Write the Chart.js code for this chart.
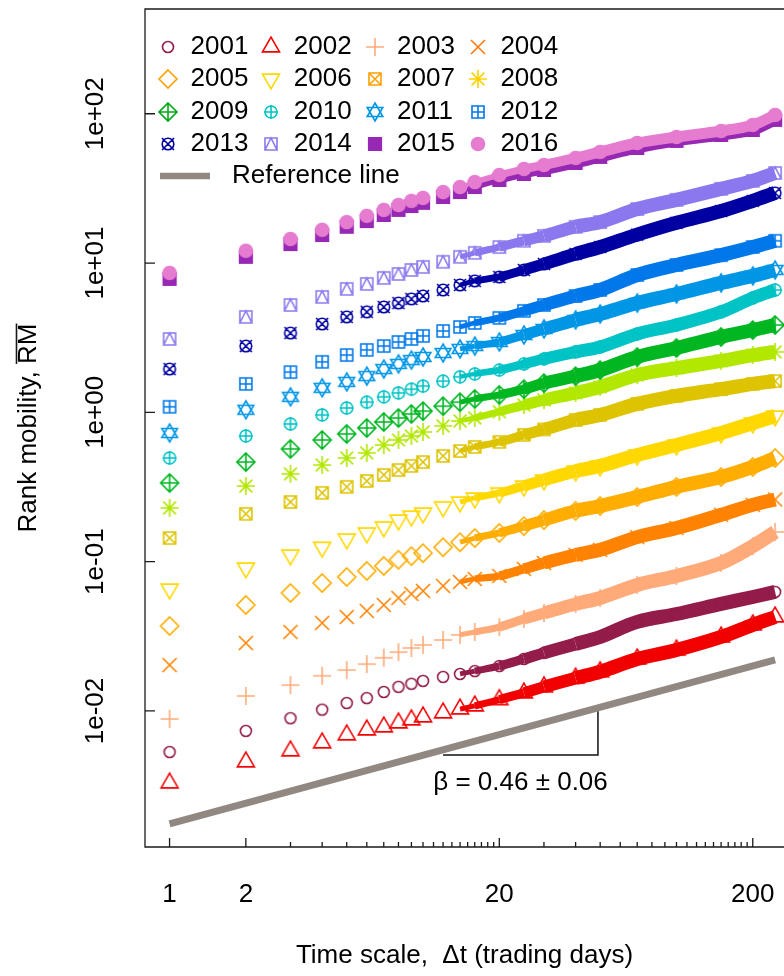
<!DOCTYPE html>
<html>
<head>
<meta charset="utf-8">
<script src="https://cdn.jsdelivr.net/npm/chart.js@4.4.0/dist/chart.umd.min.js"></script>
<style>
  html, body { margin: 0; padding: 0; background: #fff; }
  #wrap { width: 784px; height: 976px; }
</style>
</head>
<body>
<div id="wrap"><canvas id="myChart" width="784" height="976"></canvas></div>
<script>
// time scale in trading days (shared by every year)
const dt = [1, 2, 3, 4, 5, 6, 7, 8, 9, 10, 12, 14, 16, 20, 25, 30, 40, 50, 70, 100, 150, 200, 245];

// rank mobility per year
const rm2001 = [0.00531, 0.00735, 0.00894, 0.0102, 0.0113, 0.0122, 0.0134, 0.0145, 0.0152, 0.0159, 0.0169, 0.0177, 0.0185, 0.0200, 0.0223, 0.0245, 0.0281, 0.0313, 0.0395, 0.0446, 0.0521, 0.0580, 0.0627];
const rm2002 = [0.00329, 0.00456, 0.00540, 0.00611, 0.00691, 0.00746, 0.00782, 0.00831, 0.00871, 0.00912, 0.00970, 0.0103, 0.0108, 0.0119, 0.0132, 0.0145, 0.0166, 0.0183, 0.0223, 0.0256, 0.0313, 0.0377, 0.0426];
const rm2003 = [0.00884, 0.0126, 0.0149, 0.0172, 0.0188, 0.0206, 0.0227, 0.0248, 0.0264, 0.0277, 0.0299, 0.0323, 0.0338, 0.0365, 0.0413, 0.0453, 0.0521, 0.0571, 0.0698, 0.0802, 0.0980, 0.127, 0.158];
const rm2004 = [0.0203, 0.0285, 0.0338, 0.0389, 0.0426, 0.0468, 0.0513, 0.0571, 0.0608, 0.0637, 0.0688, 0.0731, 0.0766, 0.0802, 0.0894, 0.0980, 0.111, 0.120, 0.146, 0.168, 0.206, 0.240, 0.261];
const rm2005 = [0.0371, 0.0513, 0.0617, 0.0720, 0.0790, 0.0867, 0.0936, 0.103, 0.109, 0.114, 0.125, 0.135, 0.144, 0.156, 0.173, 0.190, 0.219, 0.236, 0.271, 0.317, 0.369, 0.431, 0.495];
const rm2006 = [0.0656, 0.0908, 0.111, 0.125, 0.142, 0.156, 0.171, 0.190, 0.202, 0.212, 0.233, 0.251, 0.267, 0.289, 0.321, 0.353, 0.405, 0.438, 0.518, 0.605, 0.728, 0.849, 0.946];
const rm2007 = [0.144, 0.209, 0.251, 0.289, 0.317, 0.347, 0.381, 0.411, 0.438, 0.465, 0.511, 0.551, 0.587, 0.634, 0.706, 0.769, 0.889, 0.961, 1.14, 1.29, 1.43, 1.55, 1.62];
const rm2008 = [0.229, 0.321, 0.387, 0.444, 0.495, 0.535, 0.605, 0.653, 0.695, 0.739, 0.811, 0.876, 0.917, 1.01, 1.12, 1.21, 1.35, 1.48, 1.78, 1.98, 2.21, 2.42, 2.54];
const rm2009 = [0.337, 0.465, 0.569, 0.653, 0.717, 0.786, 0.862, 0.917, 0.976, 1.02, 1.10, 1.17, 1.23, 1.31, 1.43, 1.57, 1.75, 1.92, 2.35, 2.70, 3.20, 3.56, 3.85];
const rm2010 = [0.495, 0.695, 0.836, 0.961, 1.07, 1.17, 1.27, 1.35, 1.43, 1.50, 1.62, 1.73, 1.81, 1.92, 2.11, 2.28, 2.54, 2.74, 3.35, 3.85, 4.71, 5.84, 6.60];
const rm2011 = [0.728, 1.04, 1.27, 1.46, 1.60, 1.75, 1.95, 2.11, 2.24, 2.35, 2.50, 2.66, 2.78, 2.96, 3.30, 3.62, 4.16, 4.56, 5.40, 6.21, 7.36, 8.20, 8.99];
const rm2012 = [1.09, 1.55, 1.86, 2.18, 2.42, 2.62, 2.78, 2.96, 3.10, 3.25, 3.51, 3.73, 3.97, 4.29, 4.78, 5.24, 6.02, 6.60, 8.32, 9.71, 11.3, 12.8, 14.1];
const rm2013 = [1.95, 2.78, 3.40, 3.91, 4.36, 4.71, 5.08, 5.40, 5.75, 6.02, 6.60, 7.13, 7.59, 8.07, 8.99, 9.86, 11.5, 12.8, 15.5, 18.6, 22.3, 26.1, 29.5];
const rm2014 = [3.10, 4.36, 5.24, 5.93, 6.71, 7.25, 7.95, 8.45, 8.99, 9.42, 10.2, 11.0, 11.7, 12.8, 14.1, 15.2, 17.5, 18.8, 23.0, 26.5, 31.4, 35.5, 40.1];
const rm2015 = [7.83, 11.0, 13.4, 15.4, 17.5, 19.1, 21.0, 22.7, 24.1, 25.3, 27.7, 29.9, 32.3, 36.0, 39.5, 42.0, 46.8, 51.4, 59.0, 65.8, 72.1, 77.9, 90.9];
const rm2016 = [8.59, 12.1, 14.5, 16.7, 18.8, 20.7, 22.7, 24.5, 26.1, 27.3, 29.9, 32.3, 34.9, 38.9, 42.7, 45.4, 50.6, 55.5, 63.7, 69.9, 76.7, 84.2, 98.2];

const years = ['2001', '2002', '2003', '2004', '2005', '2006', '2007', '2008',
               '2009', '2010', '2011', '2012', '2013', '2014', '2015', '2016'];
const seriesValues = [rm2001, rm2002, rm2003, rm2004, rm2005, rm2006, rm2007, rm2008,
                      rm2009, rm2010, rm2011, rm2012, rm2013, rm2014, rm2015, rm2016];

// reference power law line (two end points) and the slope bracket
const refX = [1, 245];
const refY = [0.00175, 0.0220];
const bracketX = [12, 49, 49];
const bracketY = [0.00507, 0.00507, 0.0105];
const betaLabel = '\u03b2 = 0.46 \u00b1 0.06';

const yTicks = [0.01, 0.1, 1, 10, 100];
const xTicks = [1, 2, 20, 200];

// styles
const seriesColors = ['#931C4A', '#F20000', '#FFAA78', '#FF8300', '#FFAD00', '#FFD800', '#DEC300', '#B2E800',
                      '#00B722', '#00C3C6', '#0096E6', '#0078EA', '#0000A2', '#8C78EE', '#9628B4', '#E67CD0'];
const legendColors = ['#931C4A', '#F20000', '#FFAA78', '#FF7A10', '#FFA000', '#FFD800', '#FFA000', '#FFD200',
                      '#00A81A', '#00C3C6', '#0096E6', '#0078EA', '#0000A2', '#8C78EE', '#9628B4', '#E67CD0'];
const markerShapes = ['circle', 'triUp', 'plus', 'cross', 'diamond', 'triDown', 'sqX', 'star',
                      'diamondPlus', 'circlePlus', 'david', 'sqPlus', 'circleX', 'sqTri', 'sqFill', 'dotFill'];
const bandThickness = [14, 14, 14, 14, 14, 14, 14, 14, 14, 13, 14, 14, 14, 14, 11, 11];
const refColor = '#928882';
const FONT = "'Liberation Sans', Arial, sans-serif";

function makeMarker(shape, color) {
  const s = 26, c = s / 2;
  const cv = document.createElement('canvas');
  cv.width = s; cv.height = s;
  const g = cv.getContext('2d');
  g.strokeStyle = color; g.fillStyle = color; g.lineWidth = 1.6;
  g.translate(c, c);
  const line = (a, b, e, f) => { g.moveTo(a, b); g.lineTo(e, f); };
  const poly = pts => { g.moveTo(pts[0][0], pts[0][1]); pts.slice(1).forEach(p => g.lineTo(p[0], p[1])); g.closePath(); };
  const circ = r => { g.moveTo(r, 0); g.arc(0, 0, r, 0, Math.PI * 2); };
  g.beginPath();
  switch (shape) {
    case 'circle': circ(5.5); break;
    case 'triUp': poly([[0, -9.8], [8.5, 4.9], [-8.5, 4.9]]); break;
    case 'triDown': poly([[0, 9.8], [8.5, -4.9], [-8.5, -4.9]]); break;
    case 'plus': line(-9, 0, 9, 0); line(0, -9, 0, 9); break;
    case 'cross': line(-7, -7, 7, 7); line(-7, 7, 7, -7); break;
    case 'diamond': poly([[0, -9], [9, 0], [0, 9], [-9, 0]]); break;
    case 'sqX': g.rect(-6, -6, 12, 12); line(-6, -6, 6, 6); line(-6, 6, 6, -6); break;
    case 'star': line(-9, 0, 9, 0); line(0, -9, 0, 9); line(-6.4, -6.4, 6.4, 6.4); line(-6.4, 6.4, 6.4, -6.4); break;
    case 'diamondPlus': poly([[0, -9], [9, 0], [0, 9], [-9, 0]]); line(-9, 0, 9, 0); line(0, -9, 0, 9); break;
    case 'circlePlus': circ(6); line(-7, 0, 7, 0); line(0, -7, 0, 7); break;
    case 'david':
      poly([[0, -9], [7.8, 4.5], [-7.8, 4.5]]);
      poly([[0, 9], [7.8, -4.5], [-7.8, -4.5]]);
      break;
    case 'sqPlus': g.rect(-6, -6, 12, 12); line(-6, 0, 6, 0); line(0, -6, 0, 6); break;
    case 'circleX': circ(5.8); line(-6, -6, 6, 6); line(-6, 6, 6, -6); break;
    case 'sqTri': g.rect(-6, -6, 12, 12); poly([[-6, 6], [0, -6], [6, 6]]); break;
    case 'sqFill': g.rect(-6.3, -6.3, 12.6, 12.6); g.fill(); break;
    case 'dotFill': circ(6.5); g.fill(); break;
  }
  g.stroke();
  return cv;
}

// band grows out of the overlapping markers
function bandWidth(x0, thick) {
  if (x0 < 14) return 1;
  if (x0 < 16) return thick * 0.35;
  if (x0 < 20) return thick * 0.5;
  if (x0 < 25) return thick * 0.65;
  if (x0 < 30) return thick * 0.8;
  if (x0 < 40) return thick * 0.92;
  return thick;
}

const datasets = years.map((yr, i) => {
  const color = seriesColors[i];
  return {
    label: yr,
    data: dt.map((x, j) => ({ x: x, y: seriesValues[i][j] })),
    showLine: true,
    tension: 0.35,
    borderColor: color,
    backgroundColor: color,
    borderWidth: bandThickness[i],
    borderCapStyle: 'butt',
    borderJoinStyle: 'round',
    pointStyle: makeMarker(markerShapes[i], color),
    pointRadius: 6,
    order: 16 - i,
    segment: {
      borderColor: c => (c.p0.parsed.x < 14 ? 'rgba(0,0,0,0)' : color),
      borderWidth: c => bandWidth(c.p0.parsed.x, bandThickness[i])
    }
  };
});

datasets.push({
  label: 'Reference line',
  data: refX.map((x, j) => ({ x: x, y: refY[j] })),
  showLine: true,
  borderColor: refColor,
  borderWidth: 7,
  borderCapStyle: 'butt',
  pointRadius: 0,
  order: 30
});
datasets.push({
  label: 'bracket',
  data: bracketX.map((x, j) => ({ x: x, y: bracketY[j] })),
  showLine: true,
  borderColor: '#111',
  borderWidth: 1.5,
  pointRadius: 0,
  order: 31
});

const legendMarkers = years.map((yr, i) => makeMarker(markerShapes[i], legendColors[i]));

const extrasPlugin = {
  id: 'extras',
  afterDraw(chart) {
    const { ctx, chartArea: a } = chart;
    const xs = chart.scales.x, ys = chart.scales.y;
    ctx.save();
    // frame
    ctx.strokeStyle = '#1a1a1a';
    ctx.lineWidth = 1.3;
    ctx.beginPath();
    ctx.moveTo(a.right, a.top); ctx.lineTo(a.left, a.top);
    ctx.lineTo(a.left, a.bottom); ctx.lineTo(a.right, a.bottom);
    // inward ticks
    yTicks.forEach(v => {
      const p = ys.getPixelForValue(v);
      ctx.moveTo(a.left, p); ctx.lineTo(a.left + 10, p);
    });
    for (let v = 1; v <= 200; v += (v < 20 ? 1 : 10)) {
      const p = xs.getPixelForValue(v);
      const len = xTicks.includes(v) ? 9 : 5;
      ctx.moveTo(p, a.bottom); ctx.lineTo(p, a.bottom - len);
    }
    ctx.stroke();

    // overline above RM in the y title
    ctx.font = '26px ' + FONT;
    const full = ctx.measureText('Rank mobility, RM').width;
    const rmW = ctx.measureText('RM').width;
    const cy = (a.top + a.bottom) / 2;
    const tx = ys.left + 29 - 12.5;
    ctx.lineWidth = 1.6;
    ctx.beginPath();
    ctx.moveTo(tx, cy - full / 2);
    ctx.lineTo(tx, cy - full / 2 + rmW);
    ctx.stroke();

    // beta label under the bracket
    ctx.fillStyle = '#000';
    ctx.textAlign = 'center';
    ctx.textBaseline = 'middle';
    const bx = (xs.getPixelForValue(bracketX[0]) + xs.getPixelForValue(bracketX[1])) / 2;
    const by = ys.getPixelForValue(bracketY[0]) + 28;
    ctx.fillText(betaLabel, bx, by);

    // legend
    ctx.textAlign = 'left';
    years.forEach((yr, i) => {
      const sx = a.left + 23 + (i % 4) * 103.3;
      const sy = a.top + 38 + Math.floor(i / 4) * 32.25;
      const m = legendMarkers[i];
      ctx.drawImage(m, Math.round(sx - m.width / 2), Math.round(sy - m.height / 2));
      ctx.fillText(yr, sx + 22.5, sy);
    });
    const ry = a.top + 38 + 4 * 32.25;
    ctx.strokeStyle = refColor;
    ctx.lineWidth = 6.5;
    ctx.beginPath();
    ctx.moveTo(a.left + 15, ry); ctx.lineTo(a.left + 65, ry);
    ctx.stroke();
    ctx.fillText('Reference line', a.left + 87, ry);
    ctx.restore();
  }
};

const tickFont = { family: FONT, size: 26 };

const config = {
  type: 'scatter',
  data: { datasets: datasets },
  options: {
    responsive: false,
    animation: false,
    events: [],
    devicePixelRatio: 1,
    layout: { autoPadding: false, padding: { top: 9, left: 0, right: 0, bottom: 0 } },
    plugins: { legend: { display: false }, tooltip: { enabled: false } },
    scales: {
      x: {
        type: 'logarithmic',
        min: 0.8,
        max: 265.6,
        grid: { display: false, drawTicks: false },
        border: { display: false },
        afterBuildTicks: s => { s.ticks = xTicks.map(v => ({ value: v })); },
        afterFit: s => { s.height = 129; s.paddingLeft = 0; s.paddingRight = 0; },
        ticks: {
          autoSkip: false, maxRotation: 0, minRotation: 0, padding: 32,
          font: tickFont, color: '#000',
          callback: v => String(v)
        },
        title: {
          display: true, text: 'Time scale,  \u0394t (trading days)',
          font: tickFont, color: '#000', padding: { top: 0, bottom: 5 }
        }
      },
      y: {
        type: 'logarithmic',
        min: 0.001227,
        max: 503,
        grid: { display: false, drawTicks: false },
        border: { display: false },
        afterBuildTicks: s => { s.ticks = yTicks.map(v => ({ value: v })); },
        afterFit: s => { s.width = 145; s.paddingTop = 0; s.paddingBottom = 0; },
        ticks: {
          autoSkip: false, minRotation: 90, maxRotation: 90, crossAlign: 'center', padding: 12.5,
          font: tickFont, color: '#000',
          callback: v => {
            const e = Math.round(Math.log10(v));
            return '1e' + (e < 0 ? '-' : '+') + String(Math.abs(e)).padStart(2, '0');
          }
        },
        title: {
          display: true, text: 'Rank mobility, RM',
          font: tickFont, color: '#000', padding: { top: 13, bottom: 0 }
        }
      }
    }
  },
  plugins: [extrasPlugin]
};

new Chart(document.getElementById('myChart'), config);
</script>
</body>
</html>
